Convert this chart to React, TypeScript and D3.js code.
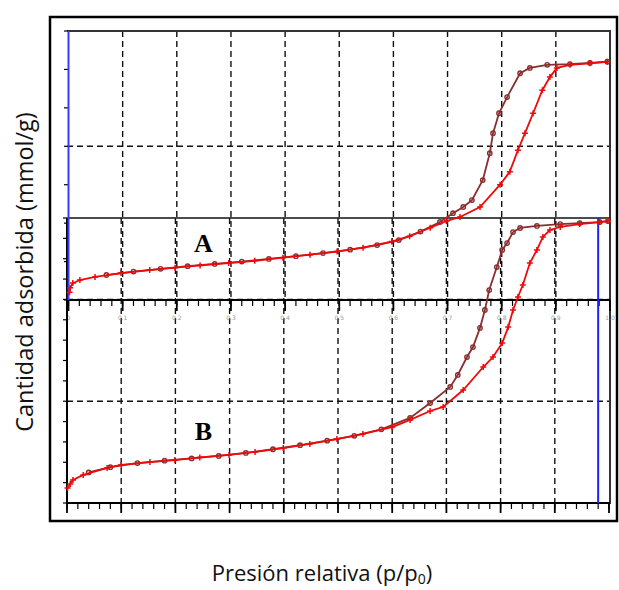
import React from 'react';
import * as d3 from 'd3';

const W = 619;
const H = 590;

const pTicks = [0, 0.1, 0.2, 0.3, 0.4, 0.5, 0.6, 0.7, 0.8, 0.9, 1.0];
const pTickLabels = ['0', '0.1', '0.2', '0.3', '0.4', '0.5', '0.6', '0.7', '0.8', '0.9', '1.0'];
const pGrid = [0.1, 0.2, 0.3, 0.4, 0.5, 0.6, 0.7, 0.8, 0.9];
const pMinor = d3.range(0, 1.0001, 0.02);

const aYTicks = [0, 0.5, 1, 1.5, 2, 2.5, 3, 3.5];
const aYGrid = [2];
const bYTicks = [0, 1, 2, 3, 4, 5, 6, 7, 8, 9, 10, 11, 12, 13, 14];
const bYGrid = [5, 10];

// Sample A: adsorption branch [p/p0, amount]
const aAds: [number, number][] = [
  [0.002, 0.1], [0.003, 0.16], [0.008, 0.22], [0.021, 0.26], [0.049, 0.3], [0.097, 0.35],
  [0.15, 0.39], [0.197, 0.42], [0.243, 0.45], [0.296, 0.48], [0.344, 0.51], [0.396, 0.55],
  [0.446, 0.59], [0.496, 0.63], [0.544, 0.68], [0.597, 0.76], [0.63, 0.83], [0.668, 0.94],
  [0.699, 1.03], [0.723, 1.08], [0.76, 1.21], [0.797, 1.5], [0.815, 1.67], [0.83, 1.95],
  [0.843, 2.17], [0.858, 2.43], [0.875, 2.73], [0.889, 2.9], [0.902, 3.02], [0.926, 3.06],
  [0.963, 3.08], [0.995, 3.1],
];
// Sample A: desorption branch
const aDes: [number, number][] = [
  [0.995, 3.1], [0.963, 3.085], [0.926, 3.07], [0.884, 3.06], [0.852, 3.02], [0.834, 2.95],
  [0.81, 2.64], [0.795, 2.43], [0.784, 2.17], [0.778, 1.91], [0.765, 1.56], [0.745, 1.3],
  [0.729, 1.21], [0.71, 1.13], [0.686, 1.015], [0.65, 0.89], [0.61, 0.78], [0.57, 0.715],
  [0.52, 0.655], [0.47, 0.61], [0.42, 0.57], [0.37, 0.535], [0.32, 0.5], [0.27, 0.47],
  [0.22, 0.44], [0.17, 0.405], [0.12, 0.37], [0.07, 0.325],
];
// Sample B: adsorption branch
const bAds: [number, number][] = [
  [0.001, 0.74], [0.006, 0.93], [0.011, 1.13], [0.03, 1.38], [0.074, 1.72], [0.1, 1.87],
  [0.153, 2.01], [0.199, 2.11], [0.245, 2.24], [0.299, 2.36], [0.347, 2.51], [0.399, 2.7],
  [0.448, 2.9], [0.498, 3.14], [0.546, 3.39], [0.6, 3.73], [0.633, 4.08], [0.67, 4.52],
  [0.694, 4.72], [0.731, 5.55], [0.768, 6.68], [0.786, 7.17], [0.803, 7.86], [0.814, 8.64],
  [0.823, 9.48], [0.832, 10.12], [0.841, 10.71], [0.854, 11.79], [0.867, 12.43], [0.878, 13.07],
  [0.891, 13.41], [0.91, 13.56], [0.946, 13.7], [0.983, 13.8], [0.998, 13.85],
];
// Sample B: desorption branch
const bDes: [number, number][] = [
  [0.998, 13.85], [0.983, 13.8], [0.946, 13.75], [0.91, 13.7], [0.867, 13.61], [0.836, 13.51],
  [0.823, 13.31], [0.812, 12.77], [0.803, 12.43], [0.793, 11.59], [0.779, 10.46], [0.771, 9.48],
  [0.762, 8.6], [0.749, 7.66], [0.738, 7.17], [0.721, 6.29], [0.707, 5.7], [0.67, 4.91],
  [0.633, 4.18], [0.58, 3.62], [0.53, 3.3], [0.48, 3.06], [0.43, 2.84], [0.38, 2.64],
  [0.33, 2.46], [0.28, 2.31], [0.23, 2.19], [0.18, 2.08], [0.13, 1.96], [0.08, 1.76], [0.04, 1.5],
];

const blueLineA = 0; // p/p0 of the blue marker line in panel A
const blueLineB = 0.98; // p/p0 of the blue marker line in panel B

const ADS = '#ee0a0a';
const DES = '#8a2e2e';

type Series = [number, number][];

function Curve({ data, x, y, color, kind }: { data: Series; x: any; y: any; color: string; kind: 'plus' | 'circle' }) {
  const line = d3.line<[number, number]>().x(d => x(d[0])).y(d => y(d[1]));
  return (
    <g>
      <path d={line(data) || ''} fill="none" stroke={color} strokeWidth={1.8} />
      {data.map((d, i) => {
        const cx = x(d[0]);
        const cy = y(d[1]);
        if (kind === 'plus') {
          return (
            <path key={i} d={`M${cx - 3},${cy}H${cx + 3}M${cx},${cy - 3}V${cy + 3}`} stroke={color} strokeWidth={1.5} />
          );
        }
        return <circle key={i} cx={cx} cy={cy} r={2.2} fill="none" stroke={color} strokeWidth={1.4} />;
      })}
    </g>
  );
}

export default function App() {
  const xA = d3.scaleLinear().domain([0, 1]).range([68.5, 610]);
  const yA = d3.scaleLinear().domain([0, 3.5]).range([300, 31]);
  const xB = d3.scaleLinear().domain([0, 1]).range([67, 609]);
  const yB = d3.scaleLinear().domain([0, 14]).range([503, 218]);

  const dash = '6,4';
  const gridStroke = '#111';

  return (
    <svg width={W} height={H} style={{ position: 'absolute', left: 0, top: 0, background: '#fff' }}>
      {/* Panel A gridlines */}
      {pGrid.map(p => (
        <line key={'ag' + p} x1={xA(p)} x2={xA(p)} y1={31} y2={300} stroke={gridStroke} strokeWidth={1.4} strokeDasharray={dash} />
      ))}
      {aYGrid.map(v => (
        <line key={'agy' + v} x1={67} x2={610} y1={yA(v)} y2={yA(v)} stroke={gridStroke} strokeWidth={1.4} strokeDasharray={dash} />
      ))}
      {/* Panel B gridlines */}
      {pGrid.map(p => (
        <line key={'bg' + p} x1={xB(p)} x2={xB(p)} y1={218} y2={503} stroke={gridStroke} strokeWidth={1.4} strokeDasharray={dash} />
      ))}
      {bYGrid.map(v => (
        <line key={'bgy' + v} x1={67} x2={610} y1={yB(v)} y2={yB(v)} stroke={gridStroke} strokeWidth={1.4} strokeDasharray={dash} />
      ))}

      {/* Panel A frame top */}
      <line x1={67} x2={610} y1={31} y2={31} stroke="#333" strokeWidth={2} />
      {/* Panel B top */}
      <line x1={67} x2={610} y1={218} y2={218} stroke="#111" strokeWidth={1.5} />
      {/* right edge */}
      <line x1={610} x2={610} y1={30} y2={504} stroke="#333" strokeWidth={2} />

      {/* Panel A x axis */}
      <line x1={67} x2={610} y1={300} y2={300} stroke="#000" strokeWidth={2.2} />
      {pMinor.map((p, i) => (
        <line key={'amn' + i} x1={xA(p)} x2={xA(p)} y1={300} y2={306} stroke="#000" strokeWidth={1.2} />
      ))}
      {pTicks.map(p => (
        <line key={'amj' + p} x1={xA(p)} x2={xA(p)} y1={300} y2={311} stroke="#000" strokeWidth={1.8} />
      ))}
      {pTicks.map((p, i) => (
        <text key={'al' + p} x={xA(p)} y={320} fontSize={6} fill="#999" textAnchor="middle" fontFamily="DejaVu Sans">
          {pTickLabels[i]}
        </text>
      ))}
      {/* Panel B x axis */}
      <line x1={67} x2={610} y1={503} y2={503} stroke="#000" strokeWidth={2} />
      {pMinor.map((p, i) => (
        <line key={'bmn' + i} x1={xB(p)} x2={xB(p)} y1={503} y2={509} stroke="#000" strokeWidth={1.2} />
      ))}
      {pTicks.map(p => (
        <line key={'bmj' + p} x1={xB(p)} x2={xB(p)} y1={503} y2={513} stroke="#000" strokeWidth={1.8} />
      ))}

      {/* y ticks */}
      {aYTicks.map(v => (
        <line key={'ayt' + v} x1={64} x2={68} y1={yA(v)} y2={yA(v)} stroke="#000" strokeWidth={1.2} />
      ))}
      {bYTicks.map(v => (
        <line key={'byt' + v} x1={63} x2={67} y1={yB(v)} y2={yB(v)} stroke="#000" strokeWidth={1.2} />
      ))}
      {/* Panel B left axis */}
      <line x1={67} x2={67} y1={218} y2={504} stroke="#000" strokeWidth={2} />
      {/* blue marker lines */}
      <line x1={xA(blueLineA)} x2={xA(blueLineA)} y1={31} y2={300} stroke="#3b3bff" strokeWidth={2} />
      <line x1={xB(blueLineB)} x2={xB(blueLineB)} y1={218} y2={503} stroke="#2020ff" strokeWidth={2} />

      {/* curves */}
      <Curve data={aDes} x={xA} y={yA} color={DES} kind="circle" />
      <Curve data={aAds} x={xA} y={yA} color={ADS} kind="plus" />
      <Curve data={bDes} x={xB} y={yB} color={DES} kind="circle" />
      <Curve data={bAds} x={xB} y={yB} color={ADS} kind="plus" />

      {/* panel letters */}
      <text x={203.5} y={252} fontSize={26} fontWeight="bold" fontFamily="Liberation Serif, serif" textAnchor="middle">A</text>
      <text x={203.5} y={440} fontSize={26} fontWeight="bold" fontFamily="Liberation Serif, serif" textAnchor="middle">B</text>

      {/* outer frame */}
      <rect x={50} y={17} width={567} height={504} fill="none" stroke="#000" strokeWidth={2.5} />

      {/* axis titles */}
      <text
        transform="translate(33,272) rotate(-90)"
        textAnchor="middle"
        fontSize={23.5}
        fontFamily="Open Sans"
        fill="#111"
      >
        Cantidad adsorbida (mmol/g)
      </text>
      <text x={322} y={581} textAnchor="middle" fontSize={22} fontFamily="Open Sans" fill="#111">
        Presión relativa (p/p<tspan fontSize={14} dy={3}>0</tspan><tspan dy={-3}>)</tspan>
      </text>
    </svg>
  );
}
